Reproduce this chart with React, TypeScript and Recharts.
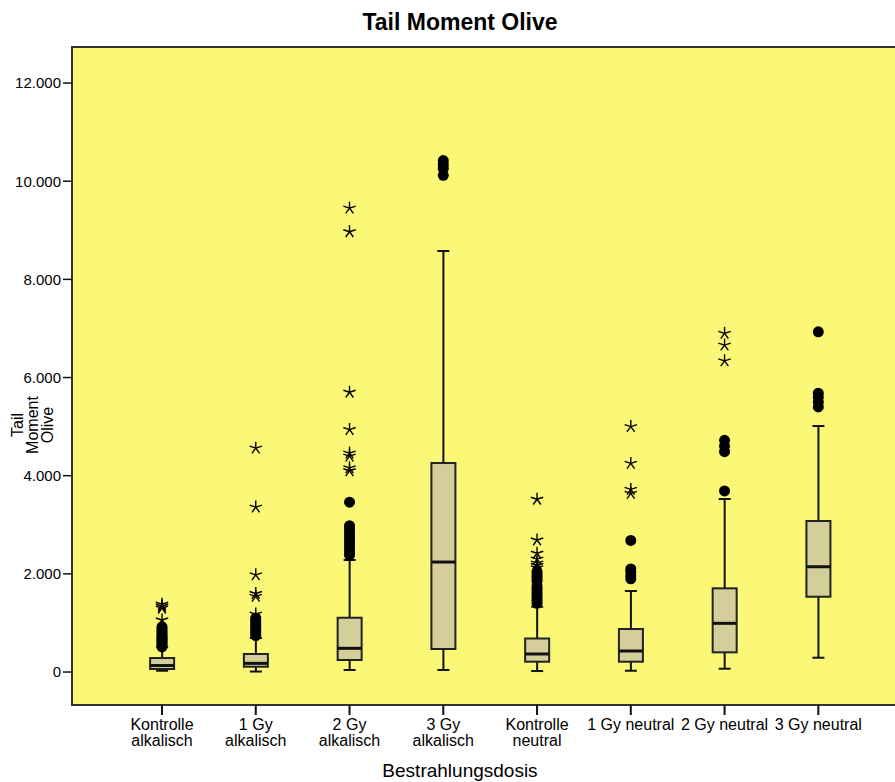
import { ComposedChart, Bar, Scatter, XAxis, YAxis, ReferenceArea } from 'recharts';

// Gruppen (Bestrahlungsdosis), Zeilenumbruch = zweite Zeile der Achsenbeschriftung
const groups = [
  'Kontrolle\nalkalisch',
  '1 Gy\nalkalisch',
  '2 Gy\nalkalisch',
  '3 Gy\nalkalisch',
  'Kontrolle\nneutral',
  '1 Gy neutral',
  '2 Gy neutral',
  '3 Gy neutral',
];

// Kennwerte der Boxplots
const whiskerLow = [26, 10, 41, 41, 20, 26, 67, 291];
const q1 = [61, 108, 245, 469, 210, 210, 401, 1534];
const median = [132, 177, 483, 2241, 367, 428, 992, 2145];
const q3 = [285, 367, 1106, 4258, 683, 876, 1705, 3077];
const whiskerHigh = [509, 693, 2282, 8578, 1330, 1650, 3525, 5012];

// Ausreisser (Kreise) und Extremwerte (Sterne) je Gruppe
const outliers = [
  [510, 550, 580, 610, 640, 670, 700, 730, 760, 800, 840, 880, 920],
  [740, 780, 820, 860, 900, 940, 980, 1020, 1060, 1100],
  [2380, 2440, 2500, 2560, 2620, 2680, 2740, 2800, 2860, 2920, 2980, 3460],
  [10120, 10260, 10340, 10420],
  [1400, 1450, 1500, 1550, 1600, 1650, 1700, 1750, 1850, 1900, 1950, 2000, 2050],
  [1900, 1960, 2040, 2100, 2680],
  [3690, 4490, 4600, 4720],
  [5400, 5500, 5600, 5680, 6930],
];
const extremes = [
  [1060, 1300, 1340, 1380],
  [1180, 1540, 1600, 1980, 3360, 4560],
  [4100, 4160, 4400, 4460, 4940, 5700, 8970, 9450],
  [],
  [2120, 2170, 2220, 2300, 2420, 2690, 3520],
  [3640, 3720, 4250, 5000],
  [6340, 6660, 6900],
  [],
];

const yTicks = [0, 2000, 4000, 6000, 8000, 10000, 12000];

const boxes = groups.map((g, i) => ({
  i,
  name: g,
  lo: whiskerLow[i],
  q1: q1[i],
  med: median[i],
  q3: q3[i],
  hi: whiskerHigh[i],
}));

const circlePoints = outliers.flatMap((vals, i) => vals.map((v) => ({ i, v })));
const starPoints = extremes.flatMap((vals, i) => vals.map((v) => ({ i, v })));

const FONT = '"Liberation Sans", Arial, sans-serif';

const fmt = (v: number) => (v === 0 ? '0' : String(v).replace(/\B(?=(\d{3})+(?!\d))/g, '.'));

// zeichnet Whisker, Box und Median aus dem Bereich [lo, hi] des Balkens
function BoxShape(props: any) {
  const { x, y, width, height, payload } = props;
  if (!payload) return null;
  const top = Math.min(y, y + height);
  const h = Math.abs(height);
  const k = h / (payload.hi - payload.lo);
  const yOf = (v: number) => top + (payload.hi - v) * k;
  const cx = x + width / 2;
  const cap = 6;
  return (
    <g>
      <line x1={cx} x2={cx} y1={yOf(payload.hi)} y2={yOf(payload.lo)} stroke="#111" strokeWidth={2} />
      <line x1={cx - cap} x2={cx + cap} y1={yOf(payload.hi)} y2={yOf(payload.hi)} stroke="#111" strokeWidth={2} />
      <line x1={cx - cap} x2={cx + cap} y1={yOf(payload.lo)} y2={yOf(payload.lo)} stroke="#111" strokeWidth={2} />
      <rect
        x={x}
        y={yOf(payload.q3)}
        width={width}
        height={yOf(payload.q1) - yOf(payload.q3)}
        fill="#d4cf9a"
        stroke="#222"
        strokeWidth={2}
      />
      <line x1={x} x2={x + width} y1={yOf(payload.med)} y2={yOf(payload.med)} stroke="#111" strokeWidth={3} />
    </g>
  );
}

function Circle(props: any) {
  const { cx, cy } = props;
  return <circle cx={cx} cy={cy} r={5.5} fill="#000" />;
}

function Star(props: any) {
  const { cx, cy } = props;
  const r = 6.5;
  const arms = [-90, -18, 54, 126, 198].map((a) => (a * Math.PI) / 180);
  return (
    <g>
      {arms.map((a, k) => (
        <line key={k} x1={cx} y1={cy} x2={cx + r * Math.cos(a)} y2={cy + r * Math.sin(a)} stroke="#000" strokeWidth={1.4} />
      ))}
    </g>
  );
}

function CategoryTick(props: any) {
  const { x, y, payload } = props;
  const label = groups[payload.value];
  if (label === undefined) return null;
  const lines = label.split('\n');
  return (
    <text x={x} y={y} textAnchor="middle" fontSize={16} fontFamily={FONT} fill="#000">
      {lines.map((l, k) => (
        <tspan key={k} x={x} dy={k === 0 ? 13 : 16}>
          {l}
        </tspan>
      ))}
    </text>
  );
}

function YLabel() {
  return (
    <text transform="translate(33,425) rotate(-90)" textAnchor="middle" fontSize={16} fontFamily={FONT} fill="#000">
      <tspan x={0} y={-10}>Tail</tspan>
      <tspan x={0} y={5}>Moment</tspan>
      <tspan x={0} y={20}>Olive</tspan>
    </text>
  );
}

export default function App() {
  return (
    <div style={{ position: 'relative', width: 895, height: 782, overflow: 'hidden', background: '#fff', fontFamily: FONT }}>
      <style>{'body{margin:0}'}</style>
      <div
        style={{
          position: 'absolute',
          top: 9,
          left: 0,
          width: 920,
          textAlign: 'center',
          fontSize: 23,
          fontWeight: 'bold',
          lineHeight: '26px',
        }}
      >
        Tail Moment Olive
      </div>
      <ComposedChart width={900} height={782} data={boxes} margin={{ top: 47, right: 2, bottom: 0, left: 0 }}>
        <ReferenceArea x1={-0.96} x2={7.85} y1={-672} y2={12734} fill="#fbf877" stroke="#333" strokeWidth={2} fillOpacity={1} />
        <XAxis
          type="number"
          dataKey="i"
          domain={[-0.96, 7.85]}
          allowDataOverflow
          ticks={[0, 1, 2, 3, 4, 5, 6, 7]}
          interval={0}
          height={77}
          tickSize={10}
          tickMargin={2}
          axisLine={false}
          tickLine={{ stroke: '#111', strokeWidth: 2 }}
          tick={<CategoryTick />}
        />
        <YAxis
          type="number"
          domain={[-672, 12734]}
          allowDataOverflow
          ticks={yTicks}
          interval={0}
          width={72}
          tickSize={9}
          tickMargin={2}
          axisLine={false}
          tickLine={{ stroke: '#111', strokeWidth: 1.5 }}
          tickFormatter={fmt}
          tick={{ fill: '#000', fontSize: 15, fontFamily: FONT }}
          label={<YLabel />}
        />
        <Bar dataKey={(d: any) => [d.lo, d.hi]} barSize={24} shape={<BoxShape />} isAnimationActive={false} />
        <Scatter data={circlePoints} dataKey="v" shape={<Circle />} isAnimationActive={false} />
        <Scatter data={starPoints} dataKey="v" shape={<Star />} isAnimationActive={false} />
      </ComposedChart>
      <div
        style={{
          position: 'absolute',
          top: 759,
          left: 0,
          width: 920,
          textAlign: 'center',
          fontSize: 19,
          lineHeight: '24px',
        }}
      >
        Bestrahlungsdosis
      </div>
    </div>
  );
}
